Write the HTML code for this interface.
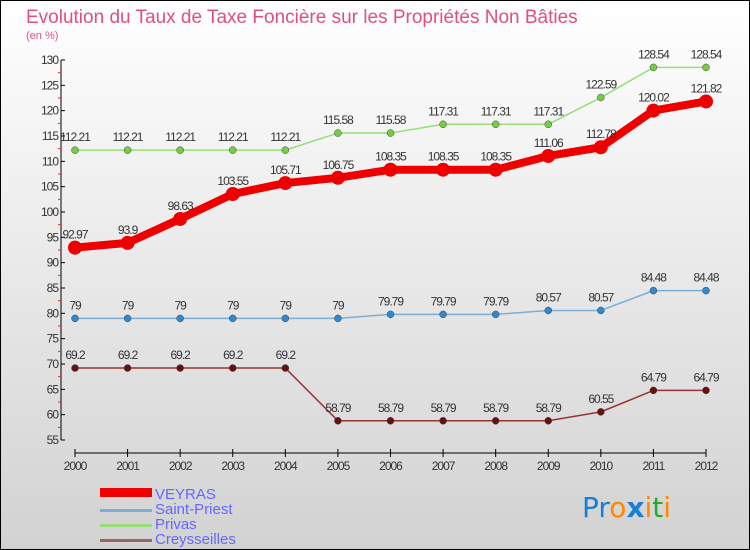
<!DOCTYPE html>
<html><head><meta charset="utf-8"><style>
body{margin:0}
svg{display:block;font-family:"Liberation Sans",sans-serif}
</style></head><body>
<svg width="750" height="550" xmlns="http://www.w3.org/2000/svg">
<defs><linearGradient id="bg" x1="0" y1="0" x2="0" y2="1"><stop offset="0" stop-color="#ffffff"/><stop offset="1" stop-color="#d2d2d2"/></linearGradient></defs>
<rect x="0.5" y="0.5" width="749" height="549" fill="url(#bg)" stroke="#000"/>
<text x="26" y="23" font-size="19" fill="#e0507a">Evolution du Taux de Taxe Foncière sur les Propriétés Non Bâties</text>
<text x="26" y="39" font-size="11" fill="#e0507a">(en %)</text>
<g id="axes"></g>
<g id="series"></g>
<g>
<rect x="100" y="488" width="52" height="9" fill="#ee0000"/>
<text x="155" y="499" font-size="15" fill="#6666ff">VEYRAS</text>
<rect x="100" y="509" width="52" height="3" fill="#7aaed6"/>
<text x="155" y="514" font-size="15" fill="#6666ff">Saint-Priest</text>
<rect x="100" y="524" width="52" height="3" fill="#99dd77"/>
<text x="155" y="529" font-size="15" fill="#6666ff">Privas</text>
<rect x="100" y="539" width="52" height="3" fill="#996666"/>
<text x="155" y="544" font-size="15" fill="#6666ff">Creysseilles</text>
</g>
<g font-size="28" font-family="'DejaVu Sans',sans-serif">
<text x="582" y="517"><tspan fill="#1a7fd4">Pr</tspan><tspan fill="#ff8800">o</tspan><tspan fill="#1a7fd4" font-weight="bold">x</tspan><tspan fill="#ff8800">i</tspan><tspan fill="#22aa33">t</tspan><tspan fill="#ff8800">i</tspan></text>
</g>
</svg>
<script>
const years=[2000,2001,2002,2003,2004,2005,2006,2007,2008,2009,2010,2011,2012];
const veyras=[92.97,93.9,98.63,103.55,105.71,106.75,108.35,108.35,108.35,111.06,112.78,120.02,121.82];
const saintPriest=[79,79,79,79,79,79,79.79,79.79,79.79,80.57,80.57,84.48,84.48];
const privas=[112.21,112.21,112.21,112.21,112.21,115.58,115.58,117.31,117.31,117.31,122.59,128.54,128.54];
const creysseilles=[69.2,69.2,69.2,69.2,69.2,58.79,58.79,58.79,58.79,58.79,60.55,64.79,64.79];
const yTicks=[55,60,65,70,75,80,85,90,95,100,105,110,115,120,125,130];
const NS="http://www.w3.org/2000/svg";
const xs=i=>75+i*(706-75)/(years.length-1);
const ys=v=>440-(v-55)*(380/75);
function mk(tag,attrs,parent){const e=document.createElementNS(NS,tag);for(const k in attrs)e.setAttribute(k,attrs[k]);parent.appendChild(e);return e;}
const ax=document.getElementById('axes');
let yl=mk('line',{x1:61,y1:ys(130),x2:61,y2:440,stroke:'#000'},ax);


yTicks.forEach(t=>{
 mk('line',{x1:61,y1:ys(t),x2:65,y2:ys(t),stroke:'#000'},ax);
 if(t<130) mk('line',{x1:58,y1:ys(t+2.5),x2:61,y2:ys(t+2.5),stroke:'#e03030'},ax);
 const tx=mk('text',{x:58,y:ys(t)+4,'font-size':12,'text-anchor':'end',fill:'#333','letter-spacing':'-1'},ax);
 tx.textContent=t;
 
 
});
let xl=mk('line',{x1:75,y1:453,x2:706,y2:453,stroke:'#000'},ax);


years.forEach((y,i)=>{
 mk('line',{x1:xs(i),y1:449,x2:xs(i),y2:457,stroke:'#000'},ax);
 const tx=mk('text',{x:xs(i),y:470,'font-size':12,'text-anchor':'middle',fill:'#333','letter-spacing':'-1'},ax);
 tx.textContent=y;
 
 
});
const sg=document.getElementById('series');
function series(vals,name,color,dot,w,r){
 const g=mk('g',{},sg);
 
 
 const pl=mk('polyline',{points:vals.map((v,i)=>xs(i)+','+ys(v)).join(' '),fill:'none',stroke:color,'stroke-width':w,'stroke-linejoin':'round'},g);
 
 
 vals.forEach((v,i)=>{
  const c=mk('circle',{cx:xs(i),cy:ys(v),r:r,fill:dot,stroke:'#444','stroke-width':r>4?0:0.5},g);
  
  
  const t=mk('text',{x:xs(i),y:ys(v)-9,'font-size':12,'text-anchor':'middle',fill:'#333','letter-spacing':'-1'},g);
  t.textContent=String(v);
  
  
 });
}
series(privas,'privas','#99dd77','#77cc44',1.5,3.5);
series(saintPriest,'saint-priest','#7aaed6','#3388cc',1.5,3.5);
series(creysseilles,'creysseilles','#993333','#661111',1.5,3.5);
series(veyras,'veyras','#ee0000','#ee0000',8,7);
</script>
</body></html>
